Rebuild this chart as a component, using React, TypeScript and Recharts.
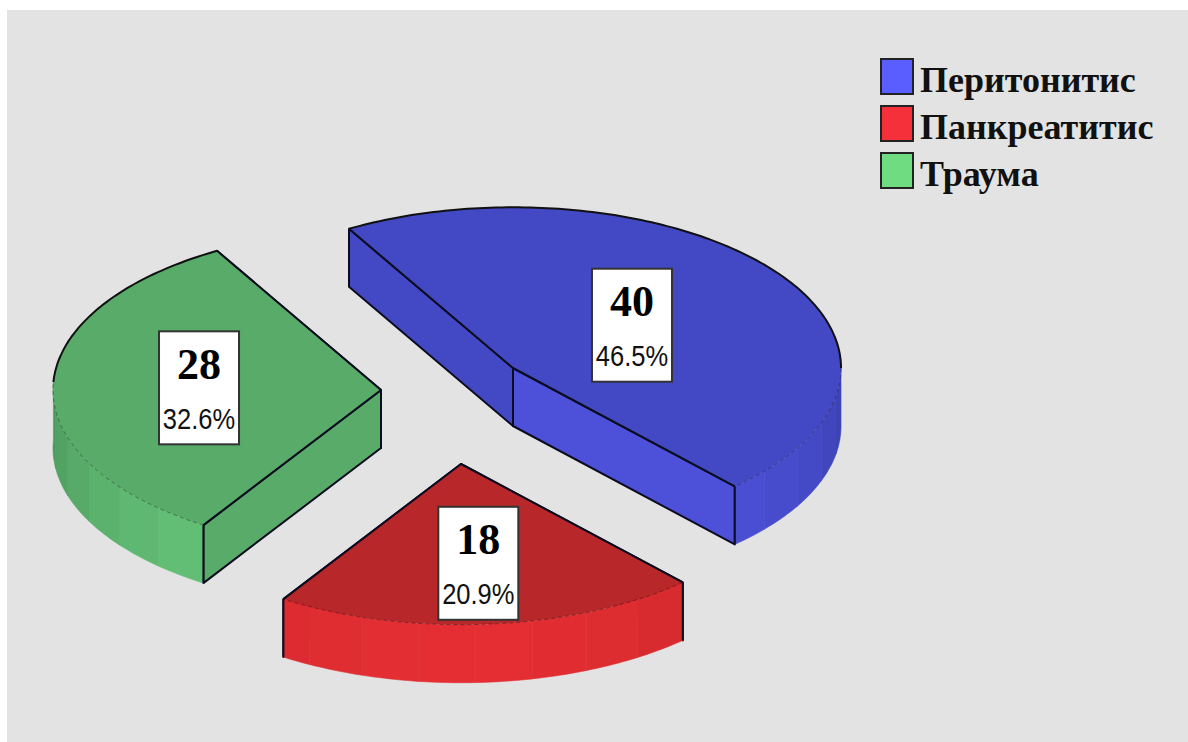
import { Legend, Pie, PieChart } from "recharts"

const categories = ["Перитонитис", "Панкреатитис", "Траума"]
const patients = [40, 18, 28]

const swatchColors = ["#5a5eff", "#f5303a", "#6fdc82"]
const topColors = ["#4349c4", "#b8272a", "#58ab68"]
const frontWallColors = ["#4d50d8", "#e12e33", "#58ab68"]
const wallLight = [
  [80, 84, 226],
  [228, 46, 51],
  [104, 200, 124],
]
const wallDark = [
  [60, 65, 176],
  [172, 33, 36],
  [76, 152, 92],
]

// how far each slice is pulled away from the pie centre
const sliceShift = [
  [58, -21],
  [6, 75],
  [-74, 1],
]
// label box centre, as a fraction of the radius along the slice's mid angle
const labelReach = [0.45, 0.62, 0.555]

const chartData = categories.map((name, i) => ({
  name,
  value: patients[i],
  fill: swatchColors[i],
}))

const TILT = 0.49
const DEPTH = 58
const FACET = 10
const RAD = Math.PI / 180

type Pt = [number, number]

function project(cx: number, cy: number, r: number, deg: number): Pt {
  return [cx + r * Math.cos(deg * RAD), cy - r * TILT * Math.sin(deg * RAD)]
}

function arcPoints(cx: number, cy: number, r: number, from: number, to: number): Pt[] {
  const steps = Math.max(2, Math.ceil(Math.abs(from - to)))
  const pts: Pt[] = []
  for (let k = 0; k <= steps; k++) {
    pts.push(project(cx, cy, r, from + ((to - from) * k) / steps))
  }
  return pts
}

function toPath(pts: Pt[], close = false) {
  const d = pts.map((p, i) => `${i ? "L" : "M"}${p[0].toFixed(1)} ${p[1].toFixed(1)}`).join(" ")
  return close ? d + " Z" : d
}

const drop = (pts: Pt[]): Pt[] => pts.map((p) => [p[0], p[1] + DEPTH])

function facetColor(i: number, deg: number) {
  const w = Math.abs(Math.sin(deg * RAD))
  const c = wallDark[i].map((d, k) => Math.round(d + (wallLight[i][k] - d) * w))
  return `rgb(${c[0]},${c[1]},${c[2]})`
}

// Sector drawn as an extruded, tilted wedge
function Wedge3D(props: any) {
  const { cx, cy, outerRadius: r, startAngle, endAngle, index: i } = props
  const sx = cx + sliceShift[i][0]
  const sy = cy + sliceShift[i][1]
  const apex: Pt = [sx, sy]
  const startPt = project(sx, sy, r, startAngle)
  const endPt = project(sx, sy, r, endAngle)

  // only the part of the rim that faces the viewer has a visible side
  const norm = (a: number) => ((a % 360) + 360) % 360
  const facets: { from: number; to: number }[] = []
  for (let a = startAngle; a > endAngle; a -= FACET) {
    const to = Math.max(a - FACET, endAngle)
    if (norm((a + to) / 2) > 180) facets.push({ from: a, to })
  }

  const frontFrom = facets.length ? Math.max(...facets.map((f) => f.from)) : startAngle
  const frontTo = facets.length ? Math.min(...facets.map((f) => f.to)) : endAngle
  const rim = arcPoints(sx, sy, r, startAngle, endAngle)
  const front = arcPoints(sx, sy, r, frontFrom, frontTo)
  const backA = startAngle > frontFrom ? arcPoints(sx, sy, r, startAngle, frontFrom) : []
  const backB = frontTo > endAngle ? arcPoints(sx, sy, r, frontTo, endAngle) : []

  const wallLine = { stroke: "#0c0c20", strokeWidth: 2, strokeLinejoin: "round" as const }

  // the radial side nearer the viewer is painted last
  const [farPt, nearPt] = startPt[1] < endPt[1] ? [startPt, endPt] : [endPt, startPt]

  return (
    <g>
      <path d={toPath([apex, farPt, ...drop([farPt]), ...drop([apex])], true)} fill={topColors[i]} {...wallLine} />
      <path d={toPath([apex, nearPt, ...drop([nearPt]), ...drop([apex])], true)} fill={frontWallColors[i]} {...wallLine} />
      {facets.map((f) => {
        const upper = arcPoints(sx, sy, r, f.from, f.to)
        const c = facetColor(i, (f.from + f.to) / 2)
        return (
          <path
            key={f.from}
            d={toPath([...upper, ...drop(upper).reverse()], true)}
            fill={c}
            stroke={c}
            strokeWidth={0.6}
          />
        )
      })}
      <path d={toPath([apex, ...rim], true)} fill={topColors[i]} />
      <path d={toPath(front)} fill="none" stroke="#000" strokeOpacity={0.35} strokeWidth={1} strokeDasharray="4 3" />
      {backA.length > 0 && <path d={toPath(backA)} fill="none" stroke="#111" strokeWidth={2} />}
      {backB.length > 0 && <path d={toPath(backB)} fill="none" stroke="#111" strokeWidth={2} />}
      <path d={toPath([startPt, apex, endPt])} fill="none" {...wallLine} />
      {facets.length > 0 && frontFrom >= startAngle && (
        <path d={toPath([startPt, ...drop([startPt])])} {...wallLine} />
      )}
      {facets.length > 0 && frontTo <= endAngle && (
        <path d={toPath([endPt, ...drop([endPt])])} {...wallLine} />
      )}
    </g>
  )
}

function ValueBox(props: any) {
  const { cx, cy, outerRadius: r, midAngle, value, percent, index: i } = props
  const sx = cx + sliceShift[i][0]
  const sy = cy + sliceShift[i][1]
  const [x, y] = project(sx, sy, r * labelReach[i], midAngle)
  return (
    <g>
      <rect x={x - 40} y={y - 56.5} width={80} height={113} fill="#fff" stroke="#333" strokeWidth={2} />
      <text
        x={x}
        y={y - 9}
        textAnchor="middle"
        fontFamily="'Liberation Serif', serif"
        fontWeight="bold"
        fontSize={44}
        fill="#000"
      >
        {value}
      </text>
      <text
        transform={`translate(${x} ${y + 41}) scale(1 1.16)`}
        textAnchor="middle"
        fontFamily="'Liberation Sans', sans-serif"
        fontSize={25.5}
        fill="#111"
      >
        {(percent * 100).toFixed(1)}%
      </text>
    </g>
  )
}

function LegendList({ payload }: any) {
  return (
    <div>
      {(payload ?? []).map((p: any) => (
        <div key={p.value} style={{ display: "flex", alignItems: "center", height: 47 }}>
          <span
            style={{
              width: 34,
              height: 37,
              boxSizing: "border-box",
              background: p.color,
              border: "2px solid #222",
            }}
          />
          <span
            style={{
              marginLeft: 6,
              position: "relative",
              top: 4,
              fontFamily: "'Liberation Serif', serif",
              fontWeight: "bold",
              fontSize: 36,
              lineHeight: "47px",
              color: "#111",
              whiteSpace: "nowrap",
            }}
          >
            {p.value}
          </span>
        </div>
      ))}
    </div>
  )
}

export default function App() {
  return (
    <div style={{ position: "absolute", left: 0, top: 0, width: 1188, height: 742, background: "#fff", overflow: "hidden" }}>
      <div style={{ position: "absolute", left: 7, top: 10, width: 1181, height: 732, background: "#e3e3e3" }} />
      <PieChart width={1188} height={742} margin={{ top: 0, right: 0, bottom: 0, left: 0 }}>
        <Pie
          data={chartData}
          dataKey="value"
          nameKey="name"
          cx={455}
          cy={389}
          innerRadius={0}
          outerRadius={328}
          startAngle={120}
          endAngle={-240}
          stroke="none"
          isAnimationActive={false}
          shape={Wedge3D}
          label={ValueBox}
          labelLine={false}
        />
        <Legend
          layout="vertical"
          verticalAlign="top"
          align="right"
          itemSorter={null}
          content={LegendList}
          wrapperStyle={{ position: "absolute", left: 880, top: 53, width: 300 }}
        />
      </PieChart>
    </div>
  )
}
